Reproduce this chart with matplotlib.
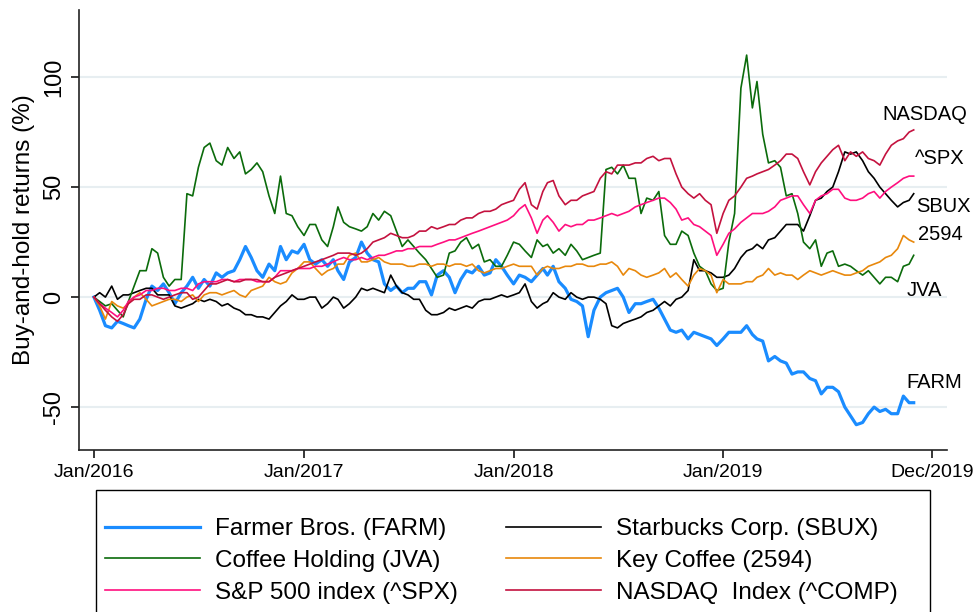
import numpy as np
import pandas as pd
import matplotlib
matplotlib.use('Agg')
import matplotlib.pyplot as plt
from matplotlib.patches import Rectangle

plt.rcParams['font.family'] = ['Liberation Sans', 'DejaVu Sans']

# observation dates: 1st, 11th and 21st of each month, plus last day
months = pd.date_range('2016-01-01', '2019-11-01', freq='MS')
dates = [m + pd.Timedelta(days=d) for m in months for d in (0, 10, 20)]
dates.append(pd.Timestamp('2019-11-29'))

# buy-and-hold returns (%)
farm = [0, -6, -13, -14, -11, -12, -13, -14, -10, -1, 5, 3,
        6, 2, -3, 2, 5, 9, 4, 8, 5, 11, 9, 11,
        12, 17, 23, 18, 12, 9, 15, 12, 23, 17, 21, 20,
        24, 17, 15, 17, 14, 17, 12, 8, 16, 18, 25, 20,
        17, 16, 6, 3, 5, 2, 4, 4, 7, 7, 1, 10,
        12, 9, 2, 8, 12, 11, 14, 10, 11, 17, 14, 10,
        6, 10, 9, 7, 10, 13, 10, 14, 7, 4, -1, -2,
        -4, -18, -6, 0, 2, 3, 4, 0, -7, -3, -3, -2,
        -1, -5, -10, -15, -16, -15, -19, -16, -17, -18, -19, -22,
        -19, -16, -16, -16, -13, -17, -19, -20, -29, -27, -29, -30,
        -35, -34, -34, -37, -38, -44, -41, -41, -43, -50, -54, -58,
        -57, -53, -50, -52, -51, -53, -53, -45, -48, -48]

sbux = [0, 2, 0, 5, -1, 1, 1, 2, 3, 4, 4, 1,
        1, 1, -4, -5, -4, -3, -1, -2, -1, -2, -4, -3,
        -5, -6, -8, -8, -9, -9, -10, -7, -4, -2, 1, -1,
        -1, 0, 0, -5, -3, 0, -1, -5, -3, 0, 4, 3,
        4, 3, 2, 10, 5, 2, 1, -1, -1, -6, -8, -8,
        -7, -5, -6, -5, -4, -5, -2, -1, -1, 0, 1, 0,
        1, 2, 6, -2, -5, -3, -2, 2, 0, -1, 2, 0,
        -1, 0, 0, -1, -3, -13, -14, -12, -11, -10, -9, -7,
        -6, -4, -2, -4, -1, 0, 3, 17, 12, 12, 11, 9,
        9, 10, 13, 18, 21, 22, 24, 22, 26, 27, 30, 33,
        33, 33, 30, 37, 44, 45, 48, 50, 57, 66, 65, 66,
        62, 57, 54, 50, 47, 44, 41, 43, 44, 47]

jva = [0, -2, -4, -3, -6, -9, -2, 5, 12, 12, 22, 20,
       9, 5, 8, 8, 47, 46, 59, 68, 70, 62, 60, 68,
       63, 66, 56, 58, 61, 57, 46, 38, 55, 38, 37, 32,
       28, 33, 33, 26, 23, 32, 41, 34, 32, 31, 30, 32,
       38, 35, 39, 37, 30, 23, 26, 23, 20, 17, 13, 9,
       10, 20, 21, 25, 27, 22, 24, 16, 17, 14, 14, 19,
       25, 24, 21, 18, 26, 23, 24, 20, 22, 19, 24, 21,
       17, 18, 19, 20, 58, 59, 56, 60, 54, 54, 38, 45,
       44, 48, 28, 24, 24, 30, 28, 20, 14, 12, 6, 3,
       4, 25, 38, 95, 110, 86, 98, 74, 61, 62, 59, 46,
       47, 38, 25, 22, 26, 14, 20, 21, 14, 15, 14, 12,
       10, 12, 9, 6, 9, 9, 7, 14, 15, 19]

key = [0, -4, -10, -2, -4, -5, -3, 0, 2, -1, -4, -3,
       -2, -1, -1, -2, 0, 1, -2, 1, 2, 2, 1, 2,
       3, 1, 0, 3, 4, 5, 9, 7, 6, 7, 11, 13,
       16, 16, 13, 10, 12, 13, 15, 15, 19, 20, 16, 16,
       17, 18, 16, 15, 15, 15, 14, 14, 15, 15, 14, 15,
       15, 14, 15, 15, 14, 15, 12, 11, 12, 13, 13, 14,
       15, 14, 14, 14, 10, 13, 14, 13, 13, 14, 14, 15,
       15, 14, 14, 15, 15, 16, 14, 10, 13, 12, 10, 9,
       10, 11, 13, 9, 11, 8, 5, 10, 13, 12, 10, 2,
       8, 6, 6, 6, 7, 7, 9, 10, 13, 10, 11, 10,
       10, 8, 10, 12, 11, 10, 11, 12, 11, 10, 10, 11,
       12, 14, 15, 16, 18, 19, 22, 28, 26, 25]

spx = [0, -3, -5, -7, -9, -6, -2, 0, 1, 3, 3, 4,
       4, 3, 3, 4, 4, 3, 6, 7, 7, 7, 8, 8,
       7, 8, 8, 8, 7, 7, 7, 9, 12, 12, 12, 13,
       13, 13, 14, 14, 15, 16, 17, 18, 17, 17, 18, 17,
       18, 19, 19, 20, 21, 21, 22, 22, 23, 23, 23, 24,
       25, 26, 26, 27, 28, 29, 30, 31, 32, 33, 34, 35,
       37, 40, 42, 36, 29, 35, 37, 34, 30, 33, 32, 33,
       33, 35, 35, 36, 37, 38, 37, 38, 39, 41, 42, 43,
       44, 45, 45, 43, 40, 35, 36, 33, 32, 30, 28, 19,
       24, 29, 31, 34, 36, 38, 38, 38, 39, 41, 44, 45,
       46, 46, 42, 38, 44, 46, 47, 49, 49, 45, 44, 44,
       45, 47, 48, 45, 48, 50, 52, 54, 55, 55]

nasdaq = [0, -3, -6, -9, -11, -8, -3, -1, -1, 1, 1, 0,
          -1, 0, 1, 2, 2, -1, 0, 3, 6, 6, 7, 8,
          7, 7, 8, 8, 8, 7, 7, 9, 10, 11, 12, 13,
          14, 15, 16, 17, 18, 19, 20, 20, 20, 19, 20, 22,
          25, 26, 27, 29, 28, 27, 27, 28, 30, 30, 32, 31,
          32, 33, 33, 35, 36, 36, 38, 39, 39, 40, 42, 43,
          44, 49, 52, 42, 40, 48, 52, 53, 46, 42, 44, 44,
          46, 47, 48, 54, 57, 56, 60, 60, 60, 61, 61, 63,
          64, 62, 63, 63, 56, 50, 47, 45, 47, 44, 42, 29,
          38, 44, 46, 50, 54, 55, 56, 57, 58, 60, 62, 65,
          65, 63, 57, 51, 57, 61, 64, 67, 69, 62, 66, 64,
          66, 63, 62, 60, 65, 69, 71, 72, 75, 76]

tick_dates = ['2016-01-01', '2017-01-01', '2018-01-01', '2019-01-01', '2019-12-31']
tick_labels = ['Jan/2016', 'Jan/2017', 'Jan/2018', 'Jan/2019', 'Dec/2019']

fig = plt.figure(figsize=(9.76, 6.12), dpi=100)
ax = fig.add_axes([79 / 976, 1 - 450 / 612, 868 / 976, 440 / 612])

l_farm, = ax.plot(dates, farm, color='#1a8cff', lw=2.3, label='Farmer Bros. (FARM)')
l_sbux, = ax.plot(dates, sbux, color='black', lw=1.2, label='Starbucks Corp. (SBUX)')
l_jva, = ax.plot(dates, jva, color='#0b6b0b', lw=1.2, label='Coffee Holding (JVA)')
l_key, = ax.plot(dates, key, color='#e8880c', lw=1.2, label='Key Coffee (2594)')
l_spx, = ax.plot(dates, spx, color='#ff0f7f', lw=1.2, label='S&P 500 index (^SPX)')
l_nas, = ax.plot(dates, nasdaq, color='#c4123f', lw=1.2, label='NASDAQ  Index (^COMP)')

# end-of-line labels
end_labels = [('2019-10-05', 83, 'NASDAQ'), ('2019-12-01', 63, '^SPX'),
              ('2019-12-03', 41, 'SBUX'), ('2019-12-06', 28.5, '2594'),
              ('2019-11-17', 3, 'JVA'), ('2019-11-17', -39, 'FARM')]
for d, v, t in end_labels:
    ax.text(pd.Timestamp(d), v, t, fontsize=14.5, va='center', ha='left')

ax.set_xlim(pd.Timestamp('2015-12-06'), pd.Timestamp('2020-01-26'))
ax.set_ylim(-69.5, 130.5)
ax.set_xticks([pd.Timestamp(t) for t in tick_dates])
ax.set_xticklabels(tick_labels, fontsize=14)
ax.set_yticks([-50, 0, 50, 100])
ax.set_yticklabels(['-50', '0', '50', '100'], fontsize=17, rotation=90, va='center')
ax.tick_params(direction='out', length=6, width=1.1, pad=4)
ax.set_ylabel('Buy-and-hold returns (%)', fontsize=17.5, labelpad=6)

ax.yaxis.grid(True, color='#e7eef1', lw=1.5)
ax.set_axisbelow(True)
for s in ['top', 'right']:
    ax.spines[s].set_visible(False)
for s in ['left', 'bottom']:
    ax.spines[s].set_linewidth(1.2)
    ax.spines[s].set_color('#222222')

handles = [l_farm, l_jva, l_spx, l_sbux, l_key, l_nas]
fig.legend(handles, [h.get_label() for h in handles], ncol=2, loc='upper left',
           bbox_to_anchor=(93 / 976, 1 - 506 / 612), frameon=False,
           fontsize=17.5, borderpad=0, handlelength=3.9, handletextpad=0.62,
           columnspacing=2.0, labelspacing=0.4)
fig.patches.append(Rectangle((96 / 976, -0.05), (930 - 96) / 976, 1 - 490 / 612 + 0.05,
                             transform=fig.transFigure, fill=False, ec='black', lw=1.0))

fig.savefig('out.png', dpi=100)
